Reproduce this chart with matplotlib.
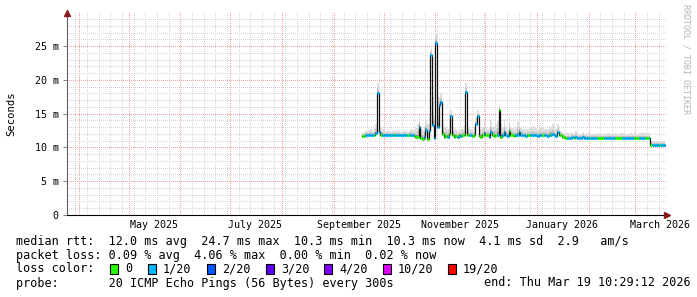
import datetime as dt
import numpy as np
import matplotlib
matplotlib.use("Agg")
import matplotlib.pyplot as plt
from matplotlib.collections import LineCollection
from matplotlib.patches import Rectangle
import matplotlib.transforms as mtransforms

plt.rcParams['font.family'] = ['DejaVu Sans Mono']

# graph window: 360 days ending Mar 19 2026
start = dt.datetime(2025, 3, 25, 1, 0)
span_days = 360
first_day = 177  # first day with data (mid September 2025)

# daily median rtt, ms
median_ms = [
    11.7, 11.7, 11.8, 11.8, 11.8, 11.9, 11.8, 11.9, 12.1, 18.0,
    12.3, 11.9, 11.8, 11.8, 11.9, 11.8, 11.8, 11.8, 11.8, 11.8,
    11.8, 11.8, 11.8, 11.8, 11.8, 11.8, 11.8, 11.8, 11.8, 11.9,
    11.8, 11.7, 11.6, 11.5, 13.0, 11.4, 11.3, 11.5, 12.6, 11.3,
    12.5, 23.7, 13.3, 11.4, 25.5, 13.0, 16.3, 16.7, 12.0, 11.6,
    11.7, 11.6, 12.0, 14.6, 11.9, 11.6, 11.7, 11.6, 11.8, 11.7,
    11.8, 11.8, 18.2, 11.9, 11.8, 11.9, 11.7, 11.8, 13.5, 14.6,
    11.7, 11.6, 11.8, 12.2, 11.8, 11.8, 11.6, 12.3, 11.8, 11.7,
    11.8, 11.9, 15.5, 11.6, 11.8, 12.3, 11.8, 11.7, 12.5, 11.8,
    11.8, 11.7, 11.8, 11.8, 12.3, 11.8, 11.8, 11.8, 11.7, 11.8,
    11.8, 11.8, 11.8, 11.8, 11.8, 11.7, 11.8, 11.8, 11.8, 11.8,
    11.8, 11.7, 11.8, 11.9, 12.0, 11.8, 11.7, 12.3, 11.9, 11.8,
    11.6, 11.5, 11.4, 11.4, 11.4, 11.4, 11.5, 11.4, 11.6, 11.4,
    11.4, 11.4, 11.6, 11.4, 11.4, 11.4, 11.4, 11.4, 11.4, 11.4,
    11.4, 11.4, 11.4, 11.4, 11.4, 11.4, 11.4, 11.4, 11.4, 11.4,
    11.4, 11.4, 11.4, 11.4, 11.4, 11.4, 11.4, 11.4, 11.4, 11.4,
    11.4, 11.4, 11.4, 11.4, 11.4, 11.4, 11.4, 11.4, 11.4, 11.4,
    11.4, 11.4, 11.4,
    10.3, 10.3, 10.3, 10.3, 10.3, 10.3, 10.3, 10.3, 10.3,
]

# top of the smoke (slowest ping of the day), ms
smoke_top_ms = [
    12.2, 12.3, 12.4, 12.5, 12.6, 12.8, 12.5, 12.9, 13.5, 19.5,
    13.2, 13.0, 12.8, 12.6, 12.5, 12.6, 12.4, 12.5, 12.4, 12.6,
    12.5, 12.4, 12.4, 12.3, 12.5, 12.4, 12.4, 12.3, 12.5, 12.7,
    12.6, 12.8, 12.9, 13.5, 14.8, 13.0, 12.6, 13.2, 14.0, 13.4,
    14.5, 24.5, 17.5, 14.5, 27.0, 17.5, 17.5, 18.0, 13.5, 13.0,
    13.0, 12.8, 13.5, 15.5, 13.0, 12.6, 12.7, 12.5, 12.6, 12.7,
    12.8, 13.2, 19.5, 13.0, 12.7, 12.8, 12.6, 13.0, 14.5, 15.5,
    13.5, 12.8, 13.0, 13.8, 12.9, 12.8, 12.9, 14.0, 13.0, 13.2,
    13.5, 14.0, 16.5, 13.5, 13.0, 14.2, 13.0, 12.8, 14.5, 13.0,
    12.9, 12.7, 13.0, 13.8, 14.0, 13.0, 12.8, 12.7, 12.7, 12.8,
    12.9, 13.0, 13.2, 13.0, 12.9, 12.8, 13.3, 13.0, 12.9, 12.8,
    12.8, 12.7, 13.2, 13.0, 13.4, 12.9, 12.7, 13.5, 12.8, 12.5,
    12.3, 12.2, 12.1, 12.1, 12.0, 12.1, 12.2, 12.0, 12.4, 12.0,
    12.0, 12.0, 12.3, 12.0, 12.0, 12.1, 12.0, 12.0, 12.0, 12.0,
    12.0, 12.1, 12.0, 12.0, 12.0, 12.1, 12.0, 12.2, 12.1, 12.0,
    12.0, 12.0, 12.1, 12.0, 12.0, 12.2, 12.1, 12.0, 12.0, 12.0,
    12.0, 12.1, 12.0, 12.1, 12.0, 12.0, 12.1, 12.1, 12.2, 12.1,
    12.2, 12.1, 12.1,
    11.0, 11.0, 11.0, 11.0, 11.0, 11.0, 11.0, 11.0, 11.0,
]

# loss class per day (index into loss_colors)
loss_idx = [
    0, 0, 1, 1, 1, 1, 1, 0, 1, 1,
    1, 0, 1, 1, 1, 1, 1, 1, 1, 0,
    1, 1, 1, 1, 1, 1, 1, 0, 1, 1,
    1, 0, 0, 0, 1, 0, 0, 1, 1, 0,
    1, 1, 1, 1, 1, 1, 1, 1, 0, 0,
    0, 1, 0, 1, 0, 0, 0, 1, 0, 1,
    0, 0, 1, 0, 1, 1, 0, 0, 1, 1,
    0, 0, 0, 1, 0, 0, 1, 1, 0, 0,
    0, 1, 0, 0, 1, 1, 1, 1, 0, 0,
    0, 0, 1, 1, 1, 1, 1, 1, 1, 0,
    0, 1, 1, 1, 1, 1, 1, 1, 0, 1,
    1, 1, 0, 1, 1, 1, 1, 1, 0, 0,
    0, 0, 0, 1, 1, 1, 1, 0, 1, 1,
    1, 1, 1, 1, 1, 1, 0, 1, 1, 1,
    1, 0, 0, 0, 0, 1, 1, 1, 1, 1,
    1, 1, 0, 0, 0, 0, 1, 1, 1, 1,
    1, 1, 1, 0, 0, 0, 1, 1, 1, 1,
    0, 0, 1,
    0, 1, 1, 1, 1, 0, 1, 1, 1,
]

loss_colors = ["#26ff00", "#00b8ff", "#0059ff", "#5e00ff", "#7e00ff", "#dd00ff", "#ff0000"]
loss_labels = ["0", "1/20", "2/20", "3/20", "4/20", "10/20", "19/20"]

y_ticks = [0, 5, 10, 15, 20, 25]
y_tick_labels = ["0", "5 m", "10 m", "15 m", "20 m", "25 m"]
x_label_months = [(2025, 5), (2025, 7), (2025, 9), (2025, 11), (2026, 1), (2026, 3)]
x_labels = ["May 2025", "July 2025", "September 2025", "November 2025", "January 2026", "March 2026"]

legend_rtt = "median rtt:  12.0 ms avg  24.7 ms max  10.3 ms min  10.3 ms now  4.1 ms sd  2.9   am/s"
legend_loss = "packet loss: 0.09 % avg  4.06 % max  0.00 % min  0.02 % now"
legend_probe = "probe:       20 ICMP Echo Pings (56 Bytes) every 300s"
legend_end = "end: Thu Mar 19 10:29:12 2026"


def day_of(t):
    return (t - start).total_seconds() / 86400.0


W, H = 697, 297
ymax = 29.9
fig = plt.figure(figsize=(W / 100, H / 100), dpi=100)
fig.patch.set_facecolor("white")
ax_l, ax_b, ax_r, ax_t = 67, 215, 667, 13
pw, ph = ax_r - ax_l, ax_b - ax_t
ax = fig.add_axes([ax_l / W, 1 - ax_b / H, pw / W, ph / H])
ax.set_xlim(0, span_days)
ax.set_ylim(0, ymax)

# grid lines (dotted, drawn as a pixel raster so the dots stay crisp)
month_starts = []
y, m = 2025, 4
while True:
    d = day_of(dt.datetime(y, m, 1))
    if d > span_days:
        break
    month_starts.append(d)
    m += 1
    if m > 12:
        y, m = y + 1, 1
sundays = []
t = dt.datetime(2025, 3, 30)
while day_of(t) < span_days:
    sundays.append(day_of(t))
    t += dt.timedelta(days=7)

grid = np.ones((ph, pw, 3))
gray = np.array([0.84, 0.84, 0.84])
red = np.array([0.96, 0.62, 0.62])


def hline(v, col):
    r = int(round((ymax - v) / ymax * ph))
    if 0 <= r < ph:
        grid[r, ::2] = col


def vline(d, col):
    c = int(round(d / span_days * pw))
    if 0 <= c < pw:
        grid[::2, c] = col


for v in range(1, 30):
    if v % 5:
        hline(v, gray)
for s in sundays:
    vline(s, gray)
for v in y_ticks[1:]:
    hline(v, red)
for ms in month_starts:
    vline(ms, red)
ax.imshow(grid, extent=(0, span_days, 0, ymax), aspect="auto", interpolation="nearest", zorder=0)

# smoke + median
n = len(median_ms)
x = first_day + np.arange(n)
xs = np.append(x, x[-1] + 1)
med = np.array(median_ms)
top = np.array(smoke_top_ms)
med_e = np.append(med, med[-1])
top_e = np.append(top, top[-1])
ax.fill_between(xs, med_e - 0.15, top_e, step="post", color="#dedede", lw=0, zorder=2)
ax.fill_between(xs, med_e - 0.15, med_e + 0.45 * (top_e - med_e), step="post",
                color="#c4c4c4", lw=0, zorder=2)
ax.fill_between(xs, med_e - 0.15, med_e + 0.15 * (top_e - med_e), step="post",
                color="#909090", lw=0, zorder=2)
ax.step(xs, med_e, where="post", color="#111111", lw=0.9, zorder=3)
segs = [[(x[i], med[i]), (x[i] + 1, med[i])] for i in range(n)]
cols = [loss_colors[k] for k in loss_idx]
ax.add_collection(LineCollection(segs, colors=cols, linewidths=2.2, capstyle="butt", zorder=4))

# axes
for s in ["top", "right"]:
    ax.spines[s].set_visible(False)
ax.spines["left"].set_color("#606060")
ax.spines["bottom"].set_color("black")
ax.spines["left"].set_zorder(5)
ax.spines["bottom"].set_zorder(5)
ax.set_yticks(y_ticks)
ax.set_yticklabels(y_tick_labels, fontsize=7.2)
ax.tick_params(axis="y", length=3, width=0.7, color="#808080", pad=3)
ax.set_xticks([])
ax.plot([1.0], [0], marker=">", color="#8b1a1a", markersize=4.5, transform=ax.transAxes,
        clip_on=False, zorder=6)
ax.plot([0], [1.0], marker="^", color="#8b1a1a", markersize=4.5, transform=ax.transAxes,
        clip_on=False, zorder=6)

trans = mtransforms.blended_transform_factory(ax.transData, fig.transFigure)
for (yy, mm), lab in zip(x_label_months, x_labels):
    xd = day_of(dt.datetime(yy, mm, 1)) + 15
    ax.text(xd, 1 - 225 / H, lab, transform=trans, ha="center", va="center", fontsize=7.2)

fig.text(11 / W, 1 - 114 / H, "Seconds", rotation=90, ha="center", va="center", fontsize=7.6)
fig.text(686 / W, 1 - 4 / H, "RRDTOOL / TOBI OETIKER", rotation=270, ha="center", va="top",
         fontsize=6, color="#b4b4b4")

# legend
fig.text(16 / W, 1 - 241 / H, legend_rtt, ha="left", va="center", fontsize=8.5)
fig.text(16 / W, 1 - 255 / H, legend_loss, ha="left", va="center", fontsize=8.5)
fig.text(16 / W, 1 - 269 / H, "loss color:", ha="left", va="center", fontsize=8.5)
swatch_x = [110, 148, 207, 266, 324, 383, 448]
for sx, c, lab in zip(swatch_x, loss_colors, loss_labels):
    fig.add_artist(Rectangle((sx / W, 1 - 274 / H), 8 / W, 10 / H, transform=fig.transFigure,
                             facecolor=c, edgecolor="black", lw=0.8))
    fig.text((sx + 15) / W, 1 - 269 / H, lab, ha="left", va="center", fontsize=8.5)
fig.text(16 / W, 1 - 283 / H, legend_probe, ha="left", va="center", fontsize=8.5)
fig.text(691 / W, 1 - 283 / H, legend_end, ha="right", va="center", fontsize=8.5)

fig.savefig("out.png", dpi=100)
